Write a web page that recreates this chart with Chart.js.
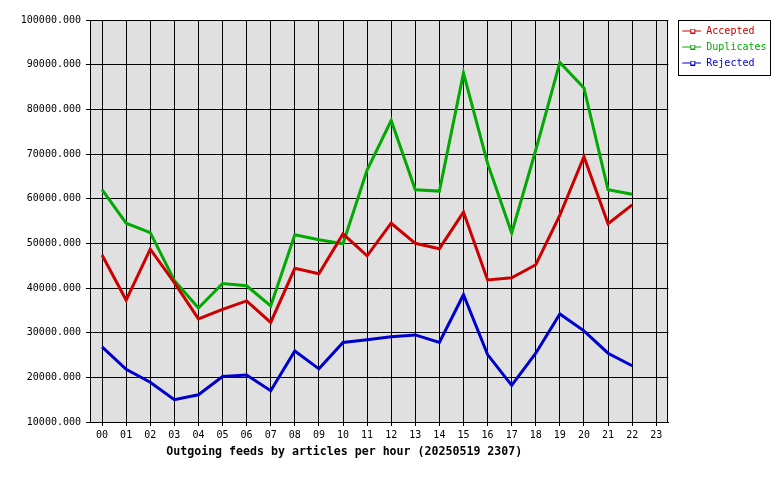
<!DOCTYPE html>
<html>
<head>
<meta charset="utf-8">
<title>Outgoing feeds by articles per hour</title>
<script src="https://cdn.jsdelivr.net/npm/chart.js@4.4.1/dist/chart.umd.min.js"></script>
<style>
  body { margin: 0; background: #fff; }
  #wrap { width: 780px; height: 480px; }
</style>
</head>
<body>
<div id="wrap"><canvas id="feeds" width="780" height="480"></canvas></div>
<script>
// hours of the day (x axis), last hour has no data yet
const hours = ['00', '01', '02', '03', '04', '05', '06', '07', '08', '09', '10', '11',
               '12', '13', '14', '15', '16', '17', '18', '19', '20', '21', '22', '23'];

// articles per hour
const accepted   = [47400, 37300, 48700, 41200, 33100, 35200, 37100, 32300, 44400, 43200, 52100, 47200,
                    54500, 50000, 48800, 57000, 41800, 42300, 45200, 56300, 69400, 54400, 58600];
const duplicates = [62000, 54500, 52400, 41700, 35500, 41000, 40500, 36000, 51900, 50800, 49900, 66400,
                    77500, 62000, 61700, 88100, 67900, 52300, 70900, 90500, 84800, 62000, 61000];
const rejected   = [26800, 21800, 18900, 15000, 16100, 20200, 20500, 17000, 25900, 21900, 27800, 28400,
                    29100, 29500, 27800, 38500, 25100, 18200, 25400, 34200, 30400, 25400, 22600];

const seriesNames  = ['Accepted', 'Duplicates', 'Rejected'];
const seriesColors = ['#cc0000', '#00aa00', '#0000cc'];

const yMin = 10000;
const yMax = 100000;
const yStep = 10000;

const caption = 'Outgoing feeds by articles per hour (20250519 2307)';
const mono = 'DejaVu Sans Mono';

// little "line with a square" sample used in the legend
function legendMark(color) {
  const c = document.createElement('canvas');
  c.width = 27;
  c.height = 5;
  const g = c.getContext('2d');
  g.fillStyle = color;
  g.fillRect(8, 2, 20, 1);
  g.fillStyle = '#ffffff';
  g.fillRect(17, 1, 3, 3);
  g.strokeStyle = color;
  g.lineWidth = 1;
  g.strokeRect(16.5, 0.5, 4, 4);
  return c;
}
const marks = seriesColors.map(legendMark);

// grey plot background and a frame round it
const plotFrame = {
  id: 'plotFrame',
  beforeDraw(chart) {
    const { ctx, chartArea: a } = chart;
    ctx.save();
    ctx.fillStyle = '#e0e0e0';
    ctx.fillRect(a.left, a.top, a.right - a.left, a.bottom - a.top);
    ctx.restore();
  },
  beforeDatasetsDraw(chart) {
    const { ctx, chartArea: a } = chart;
    ctx.save();
    ctx.strokeStyle = '#000';
    ctx.lineWidth = 1;
    ctx.strokeRect(Math.round(a.left) + 0.5, Math.round(a.top) + 0.5,
                   Math.round(a.right - a.left) - 1, Math.round(a.bottom - a.top));
    ctx.restore();
  }
};

// box round the legend entries
const legendFrame = {
  id: 'legendFrame',
  afterDraw(chart) {
    const boxes = chart.legend.legendHitBoxes;
    if (!boxes || !boxes.length) return;
    const left = Math.min(...boxes.map(b => b.left)) + 4;
    const right = Math.max(...boxes.map(b => b.left + b.width)) + 4;
    const top = Math.min(...boxes.map(b => b.top)) - 6;
    const bottom = Math.max(...boxes.map(b => b.top + b.height)) + 7;
    const ctx = chart.ctx;
    ctx.save();
    ctx.strokeStyle = '#000';
    ctx.lineWidth = 1;
    ctx.strokeRect(Math.round(left) + 0.5, Math.round(top) + 0.5,
                   Math.round(right - left), Math.round(bottom - top));
    ctx.restore();
  }
};

const series = [accepted, duplicates, rejected];

new Chart(document.getElementById('feeds'), {
  type: 'line',
  data: {
    labels: hours,
    datasets: series.map((values, i) => ({
      label: seriesNames[i],
      data: values,
      borderColor: seriesColors[i],
      backgroundColor: seriesColors[i],
      borderWidth: 3,
      pointRadius: 0,
      tension: 0,
      fill: false
    }))
  },
  options: {
    responsive: false,
    animation: false,
    devicePixelRatio: 1,
    layout: { padding: { top: 20, right: 3.5, bottom: 0, left: 0 } },
    plugins: {
      tooltip: { enabled: false },
      legend: {
        position: 'right',
        align: 'start',
        labels: {
          usePointStyle: true,
          pointStyleWidth: 27,
          padding: 6,
          font: { family: mono, size: 10 },
          generateLabels: chart => chart.data.datasets.map((ds, i) => ({
            text: ds.label,
            fontColor: ds.borderColor,
            fillStyle: ds.borderColor,
            strokeStyle: ds.borderColor,
            lineWidth: 0,
            pointStyle: marks[i],
            hidden: false,
            datasetIndex: i
          }))
        }
      }
    },
    scales: {
      x: {
        offset: true,
        grid: { offset: false, color: '#000', lineWidth: 1, tickLength: 4 },
        border: { color: '#000', width: 1 },
        ticks: {
          color: '#000',
          font: { family: mono, size: 10 },
          padding: 3,
          maxRotation: 0,
          autoSkip: false
        },
        title: {
          display: true,
          text: caption + '\u00a0'.repeat(10),
          color: '#000',
          font: { family: mono, size: 11.6, weight: 'bold' },
          padding: { top: 0, bottom: 21 }
        },
        afterFit: scale => { scale.height = 58; }
      },
      y: {
        min: yMin,
        max: yMax,
        grid: { color: '#000', lineWidth: 1, tickLength: 4 },
        border: { color: '#000', width: 1 },
        ticks: {
          stepSize: yStep,
          color: '#000',
          font: { family: mono, size: 10 },
          padding: 5,
          callback: v => v.toFixed(3)
        },
        afterFit: scale => { scale.width = 90; }
      }
    }
  },
  plugins: [plotFrame, legendFrame]
});
</script>
</body>
</html>
